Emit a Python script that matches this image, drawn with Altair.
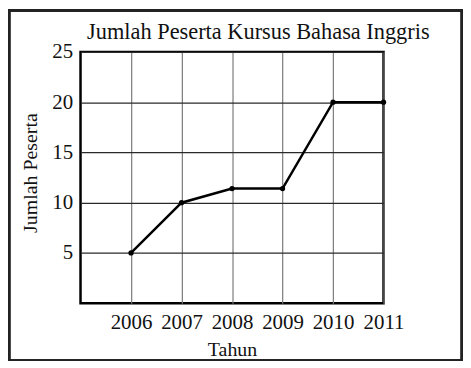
import altair as alt
import pandas as pd

TITLE = "Jumlah Peserta Kursus Bahasa Inggris"
years = [2006, 2007, 2008, 2009, 2010, 2011]
peserta = [5, 10, 11.4, 11.4, 20, 20]

df = pd.DataFrame({"Tahun": years, "Peserta": peserta})

FONT = "Liberation Serif"

x = alt.X("Tahun:Q",
          scale=alt.Scale(domain=[2005, 2011], nice=False, zero=False),
          axis=alt.Axis(values=years, format="d", title="Tahun", ticks=False,
                        domain=False, labelPadding=8, gridColor="#7a7a7a",
                        gridWidth=1.2, gridOpacity=1, labelOverlap=False,
                        labelBound=False, labelFlush=False, labelFontSize=21,
                        titleY=52.7, titleBaseline="alphabetic"))
y = alt.Y("Peserta:Q",
          scale=alt.Scale(domain=[0, 25], nice=False),
          axis=alt.Axis(values=[5, 10, 15, 20, 25], title="Jumlah Peserta",
                        ticks=False, domain=False, labelPadding=8,
                        gridColor="#2a2a2a", gridWidth=1.2, gridOpacity=1,
                        labelOverlap=False, labelBound=False, labelFlush=False,
                        labelFontSize=21,
                        titleX=-44, titleY=121.5, titleBaseline="alphabetic",
                        titleAngle=-90))

line = alt.Chart(df).mark_line(
    color="black", strokeWidth=2.5,
    point=alt.OverlayMarkDef(color="black", size=28, filled=True, opacity=1)
).encode(x=x, y=y)

border = alt.Chart(df).mark_rect(fill=None, stroke="#222", strokeWidth=2.5, clip=False).encode(
    x=alt.value(-72), x2=alt.value(384), y=alt.value(-42), y2=alt.value(311))

title = alt.Chart(pd.DataFrame({"t": [TITLE]})).mark_text(
    font=FONT, fontSize=22.5, color="#111", align="center", baseline="alphabetic"
).encode(text="t:N", x=alt.value(179), y=alt.value(-13))

chart = alt.layer(border, line, title).properties(
    width=305, height=253,
    autosize=alt.AutoSizeParams(type="none"),
    padding={"left": 73, "top": 43, "right": 80, "bottom": 57},
    background="white",
).configure_view(stroke="black", strokeWidth=2.5).configure_axis(
    labelFont=FONT, titleFont=FONT, labelFontSize=21, titleFontSize=20,
    labelColor="#111", titleColor="#111", titleFontWeight="normal"
)

chart.save("out.html", embed_options={"renderer": "svg", "actions": False})
